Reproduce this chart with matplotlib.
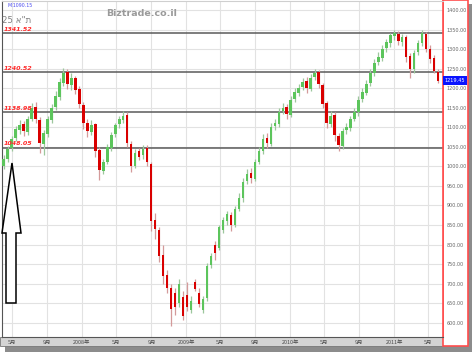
"""Weekly candles of the TA-25 index with support/resistance levels (biztrade style)."""
import matplotlib

matplotlib.use("Agg")
import matplotlib.dates as mdates
import matplotlib.pyplot as plt
import matplotlib.transforms as mtransforms
import numpy as np
import pandas as pd
from matplotlib.patches import Polygon, Rectangle

W, H = 472, 352

# OHLC values, one candle every two weeks.
opens = [1000, 1018, 1048, 1072, 1092, 1108, 1088, 1122, 1152, 1118,
         1058, 1082, 1118, 1152, 1178, 1212, 1242, 1208, 1226, 1198,
         1158, 1112, 1088, 1108, 1042, 988, 1012, 1048, 1082, 1108,
         1118, 1132, 1058, 1002, 1038, 1028, 1048, 1005, 862, 838,
         772, 722, 690, 675, 650, 665, 670, 632, 705, 675,
         632, 662, 748, 798, 792, 836, 860, 875, 850, 892,
         918, 962, 982, 968, 1012, 1038, 1072, 1058, 1102, 1108,
         1142, 1152, 1132, 1172, 1188, 1202, 1218, 1198, 1228, 1242,
         1208, 1162, 1108, 1132, 1078, 1052, 1092, 1098, 1122, 1138,
         1172, 1188, 1212, 1238, 1268, 1278, 1302, 1316, 1334, 1338,
         1318, 1330, 1282, 1248, 1292, 1315, 1338, 1300, 1278, 1242]
highs = [1028, 1052, 1078, 1102, 1118, 1116, 1128, 1162, 1165, 1125,
         1092, 1128, 1160, 1192, 1225, 1252, 1248, 1238, 1232, 1205,
         1165, 1120, 1118, 1112, 1050, 1020, 1058, 1088, 1112, 1128,
         1142, 1138, 1065, 1045, 1048, 1055, 1055, 1012, 880, 845,
         800, 735, 700, 690, 712, 680, 705, 668, 712, 690,
         668, 752, 778, 808, 850, 870, 885, 882, 898, 932,
         970, 992, 995, 1018, 1050, 1082, 1085, 1110, 1122, 1150,
         1162, 1160, 1180, 1200, 1210, 1225, 1228, 1235, 1248, 1246,
         1212, 1168, 1142, 1138, 1085, 1098, 1112, 1130, 1150, 1180,
         1200, 1222, 1250, 1275, 1292, 1310, 1325, 1340, 1350, 1345,
         1338, 1336, 1290, 1298, 1322, 1348, 1344, 1310, 1285, 1250]
lows = [992, 1012, 1040, 1065, 1084, 1078, 1080, 1115, 1110, 1035,
        1030, 1075, 1110, 1145, 1170, 1205, 1198, 1195, 1185, 1150,
        1095, 1075, 1080, 1025, 965, 980, 1005, 1040, 1075, 1098,
        1110, 1050, 985, 995, 1015, 1018, 1000, 835, 815, 755,
        700, 675, 592, 620, 640, 608, 630, 625, 680, 640,
        625, 655, 740, 760, 785, 830, 850, 835, 845, 885,
        910, 955, 958, 962, 1005, 1032, 1048, 1052, 1092, 1100,
        1135, 1122, 1125, 1165, 1180, 1195, 1188, 1192, 1220, 1200,
        1148, 1098, 1100, 1065, 1040, 1045, 1082, 1090, 1115, 1130,
        1165, 1182, 1205, 1230, 1258, 1270, 1292, 1305, 1322, 1310,
        1308, 1268, 1225, 1240, 1285, 1308, 1292, 1265, 1238, 1212]
closes = [1020, 1045, 1070, 1095, 1105, 1090, 1120, 1150, 1120, 1060,
          1085, 1120, 1150, 1180, 1215, 1240, 1210, 1225, 1195, 1160,
          1110, 1090, 1105, 1040, 990, 1010, 1050, 1080, 1105, 1120,
          1130, 1060, 1000, 1035, 1025, 1045, 1010, 860, 840, 770,
          720, 690, 635, 640, 700, 618, 640, 656, 685, 648,
          660, 745, 770, 778, 845, 862, 878, 850, 890, 920,
          960, 980, 970, 1010, 1040, 1070, 1060, 1100, 1110, 1140,
          1150, 1135, 1170, 1190, 1200, 1215, 1200, 1225, 1240, 1210,
          1160, 1110, 1130, 1080, 1055, 1090, 1100, 1120, 1140, 1170,
          1190, 1210, 1240, 1265, 1280, 1300, 1318, 1335, 1340, 1320,
          1330, 1280, 1250, 1290, 1315, 1340, 1300, 1275, 1245, 1219.45]

levels = [1341.52, 1240.52, 1138.98, 1048.05]
last_price = 1219.45
tick_dates = ["2007-05-01", "2007-09-01", "2008-01-01", "2008-05-01", "2008-09-01",
              "2009-01-01", "2009-05-01", "2009-09-01", "2010-01-01", "2010-05-01",
              "2010-09-01", "2011-01-01", "2011-05-01"]
tick_labels = ["5月", "9月", "2008年", "5月", "9月", "2009年", "5月", "9月",
               "2010年", "5月", "9月", "2011年", "5月"]
price_ticks = list(range(600, 1401, 50))

CJK = ["Noto Sans CJK JP", "DejaVu Sans"]


def fig_rect(x0, y0, x1, y1, **kw):
    """Rectangle given in picture pixels (origin top-left)."""
    return Rectangle((x0 / W, 1 - y1 / H), (x1 - x0) / W, (y1 - y0) / H,
                     transform=fig.transFigure, **kw)


fig = plt.figure(figsize=(W / 100, H / 100), dpi=100, facecolor="white")

# frame decorations: drop shadow, date strip, right price panel
fig.add_artist(fig_rect(5, 346, 472, 352, facecolor="#8c8c8c", edgecolor="none", zorder=-2))
fig.add_artist(fig_rect(468, 4, 472, 352, facecolor="#8c8c8c", edgecolor="none", zorder=-2))
fig.add_artist(fig_rect(0, 337, 443, 346, facecolor="#d4d4d4", edgecolor="#777777",
                        linewidth=0.6, zorder=-1))
fig.add_artist(fig_rect(443, 0, 467.5, 346, facecolor="white", edgecolor="#ff4d4d",
                        linewidth=1.2, zorder=-1))

ax = fig.add_axes([2 / W, 1 - 337 / H, 441 / W, 336 / H])
dates = pd.date_range("2007-04-01", periods=len(closes), freq="14D")
x = mdates.date2num(dates)
o = np.array(opens, dtype=float)
c = np.array(closes, dtype=float)
up = c >= o

ax.set_xlim(mdates.date2num(pd.Timestamp("2007-03-26")),
            mdates.date2num(pd.Timestamp("2011-06-22")))
ax.set_ylim(563.4, 1423)

ax.set_axisbelow(True)
ax.set_xticks(mdates.date2num(pd.to_datetime(tick_dates)))
ax.set_xticklabels(tick_labels, family=CJK)
ax.set_yticks(price_ticks)
ax.set_yticklabels([f"{p:.2f}" for p in price_ticks])
ax.yaxis.tick_right()
ax.grid(color="#e2e2e2", linewidth=0.8)
ax.tick_params(axis="x", length=0, pad=2.2, labelsize=3.9, labelcolor="#4a4a4a")
ax.tick_params(axis="y", length=0, pad=2.5, labelsize=3.5, labelcolor="#666666")

for lvl in levels:
    ax.axhline(lvl, color="#5a5a5a", linewidth=1.1, zorder=1)

wick_colors = np.where(up, "#9cc79c", "#d49a9a")
body_colors = np.where(up, "#5cc55c", "#d90000")
ax.vlines(x, lows, highs, colors=wick_colors, linewidth=0.9, zorder=2)
ax.bar(x, c - o, bottom=o, width=8.5, color=body_colors, edgecolor="none", zorder=3)

blend = mtransforms.blended_transform_factory(ax.transAxes, ax.transData)
for lvl in levels:
    ax.text(0.003, lvl + 3, f"{lvl:.2f}", transform=blend, ha="left", va="bottom",
            color="#ff2a2a", fontsize=4.6, fontweight="bold", style="italic", zorder=4)

ax.text(1.004, last_price, f"{last_price:.2f}", transform=blend, ha="left", va="center",
        color="white", fontsize=3.6, clip_on=False, zorder=6,
        bbox=dict(boxstyle="square,pad=0.35", facecolor="#0a14ff", edgecolor="none"))

ax.text(0.012, 0.993, "M:1090.15", transform=ax.transAxes, ha="left", va="top",
        color="#4a4af0", fontsize=3.4)
ax.text(0.0, 0.955, "25 א\"ת", transform=ax.transAxes, ha="left", va="top",
        color="#808080", fontsize=6.2)
ax.text(0.235, 0.975, "Biztrade.co.il", transform=ax.transAxes, ha="left", va="top",
        color="#9a9a9a", fontsize=6.8, fontweight="bold")

for side in ("left", "bottom"):
    ax.spines[side].set_color("#555555")
ax.spines["top"].set_color("#cfcfcf")
ax.spines["right"].set_color("#ff4d4d")
ax.spines["right"].set_linewidth(1.2)

# hollow arrow pointing up at the start of the move
arrow_px = [(12, 163), (21, 233), (16, 233), (16, 303), (6, 303), (6, 233), (2, 233)]
fig.add_artist(Polygon([(px / W, 1 - py / H) for px, py in arrow_px], closed=True,
                       facecolor="white", edgecolor="black", linewidth=1.1,
                       transform=fig.transFigure, zorder=5))

fig.savefig("out.png", dpi=100, facecolor="white")
